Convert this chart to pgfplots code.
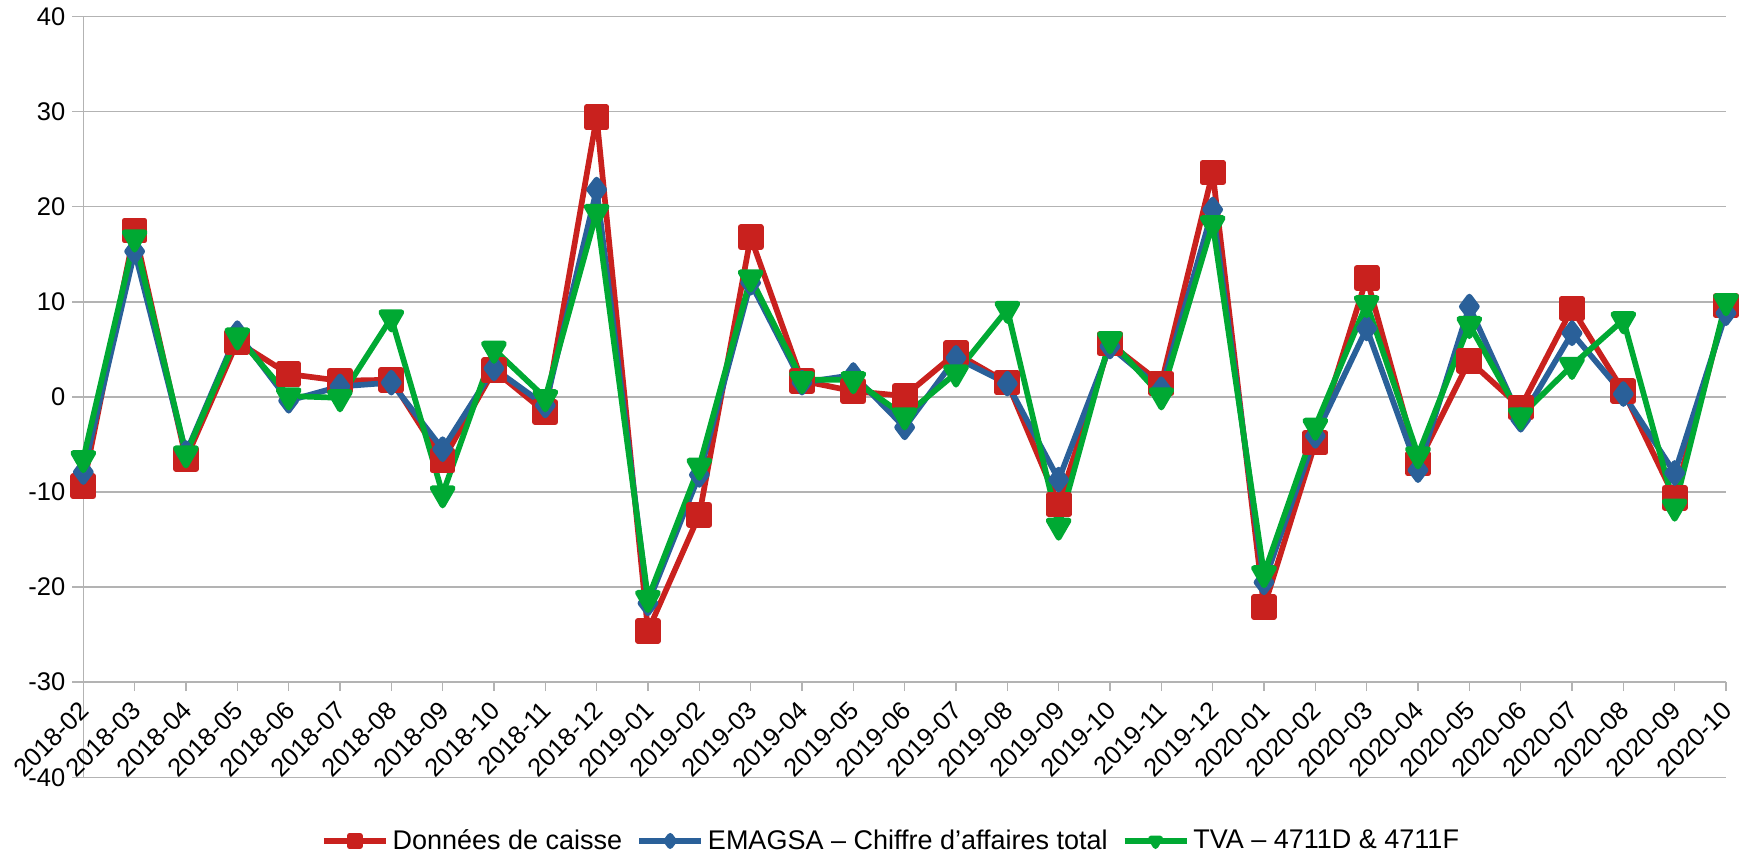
\documentclass[border=0pt]{standalone}
\usepackage{fontspec}
\setmainfont{Liberation Sans}
\usepackage{pgfplots}
\pgfplotsset{compat=1.18}
\usepackage{pgfplotstable}

\definecolor{cred}{HTML}{C9211E}
\definecolor{cblue}{HTML}{2A6099}
\definecolor{cgreen}{HTML}{00A933}
\definecolor{cgrid}{HTML}{B3B3B3}

\pgfplotstableread{
x red blue green
0 -9.4 -7.9 -6.5
1 17.5 15.3 16.7
2 -6.5 -5.9 -6.0
3 5.8 6.7 6.4
4 2.4 -0.4 0.1
5 1.7 1.1 -0.1
6 1.8 1.5 8.3
7 -6.7 -5.5 -10.2
8 2.8 3.0 5.0
9 -1.6 -0.9 -0.1
10 29.4 21.8 19.4
11 -24.6 -21.7 -21.2
12 -12.4 -8.2 -7.3
13 16.8 12.0 12.5
14 1.7 1.5 1.8
15 0.6 2.3 1.8
16 0.1 -3.2 -2.0
17 4.6 4.1 2.5
18 1.5 1.4 9.2
19 -11.3 -8.7 -13.6
20 5.6 5.3 6.0
21 1.4 0.8 0.1
22 23.6 19.7 18.2
23 -22.1 -19.5 -18.6
24 -4.8 -4.1 -3.1
25 12.5 7.2 9.8
26 -7.0 -7.7 -6.1
27 3.8 9.5 7.6
28 -1.1 -2.4 -2.0
29 9.3 6.7 3.3
30 0.6 0.3 8.1
31 -10.6 -8.0 -11.6
32 9.6 8.8 10.0
}\datatable

\begin{document}
\begin{tikzpicture}
\useasboundingbox (0,0) rectangle (870.5pt,426.5pt);
\begin{axis}[
  at={(41.65pt,37.85pt)}, anchor=south west,
  width=821.35pt, height=380.4pt, scale only axis,
  xmin=0, xmax=32, ymin=-40, ymax=40,
  clip=false,
  axis x line*=bottom, axis y line*=left,
  axis line style={cgrid, line width=0.75pt},
  xtick=\empty,
  ytick={-40,-30,...,40},
  yticklabels={-40,-30,-20,-10,0,10,20,30,40},
  ymajorgrids, grid style={cgrid, line width=0.75pt},
  tick align=outside, major tick length=5.5pt,
  ytick style={cgrid, line width=0.75pt},
  yticklabel style={font=\fontsize{12.75}{15}\selectfont, text=black},
  legend columns=3,
  legend style={at={(0.4923,-0.0837)}, anchor=center, draw=none, fill=none,
    font=\fontsize{13.5}{16}\selectfont,
    /tikz/every even column/.style={column sep=5pt}},
  legend image code/.code={\draw[mark repeat=2, mark phase=2, #1, mark size=2.6pt]
     plot coordinates {(0pt,0pt) (15.5pt,0pt) (31pt,0pt)};},
  every axis plot/.append style={line width=2.85pt, line join=round},
]
\addplot[cred, mark=square*, mark size=5pt, mark options={solid}] table[x=x,y=red]{\datatable};
\addlegendentry{Données de caisse}
\addplot[cblue, mark=diamond*, mark size=5pt, mark options={solid}] table[x=x,y=blue]{\datatable};
\addlegendentry{EMAGSA – Chiffre d’affaires total}
\addplot[cgreen, mark=triangle*, mark size=5.8pt, mark options={solid, rotate=180}] table[x=x,y=green]{\datatable};
\addlegendentry{TVA – 4711D \& 4711F}
\end{axis}
\begin{axis}[
  at={(41.65pt,85.4pt)}, anchor=south west,
  width=821.35pt, height=20pt, scale only axis,
  xmin=0, xmax=32, ymin=0, ymax=1,
  axis x line*=bottom, axis y line=none,
  x axis line style={draw=none},
  xtick={0,...,32},
  xticklabels={2018-02,2018-03,2018-04,2018-05,2018-06,2018-07,2018-08,2018-09,2018-10,2018-11,2018-12,2019-01,2019-02,2019-03,2019-04,2019-05,2019-06,2019-07,2019-08,2019-09,2019-10,2019-11,2019-12,2020-01,2020-02,2020-03,2020-04,2020-05,2020-06,2020-07,2020-08,2020-09,2020-10},
  tick align=outside, major tick length=4.5pt,
  xtick style={cgrid, line width=0.75pt},
  xticklabel style={font=\fontsize{12.75}{15}\selectfont, text=black, yshift=-7.2pt, xshift=0.85pt, rotate=45, anchor=east, inner sep=0pt},
]
\addplot[draw=none] coordinates {(0,0.5)};
\end{axis}
\end{tikzpicture}
\end{document}
